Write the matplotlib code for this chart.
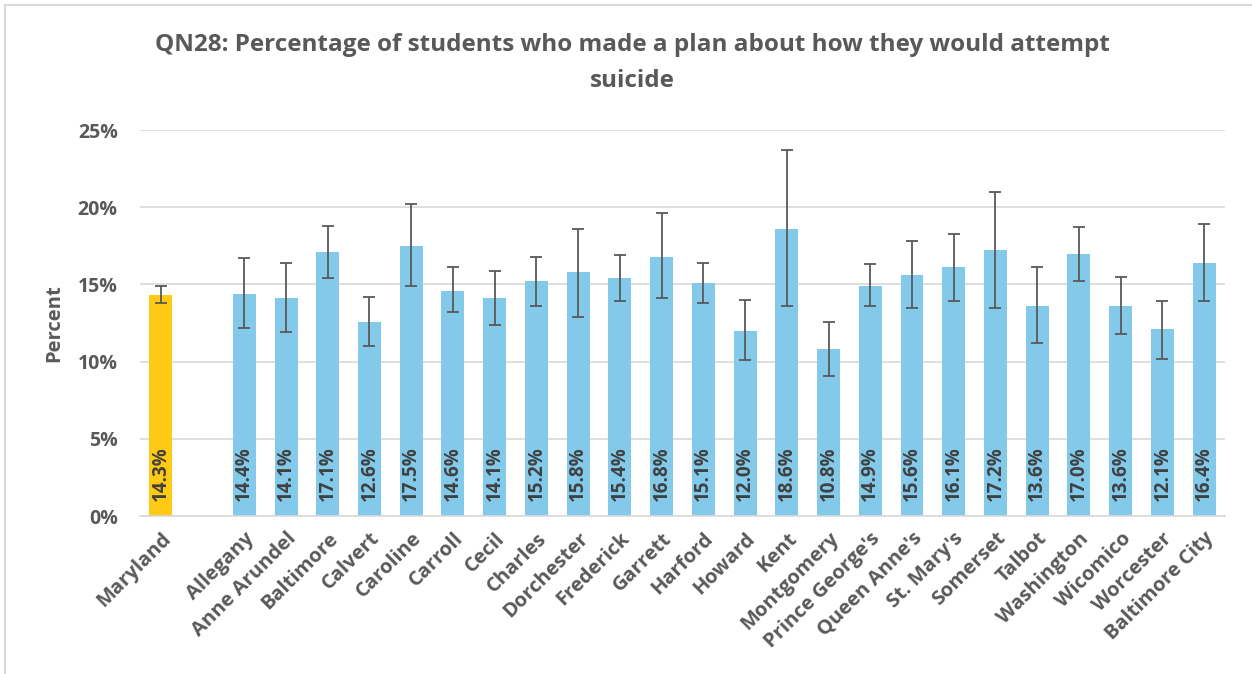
import matplotlib.pyplot as plt
import numpy as np
from matplotlib.patches import Rectangle

plt.rcParams['font.family'] = ['Open Sans', 'DejaVu Sans']

categories = ["Maryland", "", "Allegany", "Anne Arundel", "Baltimore", "Calvert",
              "Caroline", "Carroll", "Cecil", "Charles", "Dorchester", "Frederick",
              "Garrett", "Harford", "Howard", "Kent", "Montgomery", "Prince George's",
              "Queen Anne's", "St. Mary's", "Somerset", "Talbot", "Washington",
              "Wicomico", "Worcester", "Baltimore City"]
values = [14.3, np.nan, 14.4, 14.1, 17.1, 12.6, 17.5, 14.6, 14.1, 15.2, 15.8, 15.4,
          16.8, 15.1, 12.0, 18.6, 10.8, 14.9, 15.6, 16.1, 17.2, 13.6, 17.0,
          13.6, 12.1, 16.4]
ci_low = [13.8, np.nan, 12.2, 11.9, 15.4, 11.0, 14.9, 13.2, 12.4, 13.6, 12.9, 13.9,
          14.1, 13.8, 10.1, 13.6, 9.1, 13.6, 13.5, 13.9, 13.5, 11.2, 15.2,
          11.8, 10.2, 13.9]
ci_high = [14.9, np.nan, 16.7, 16.4, 18.8, 14.2, 20.2, 16.1, 15.9, 16.8, 18.6, 16.9,
           19.6, 16.4, 14.0, 23.7, 12.6, 16.3, 17.8, 18.3, 21.0, 16.1, 18.7,
           15.5, 13.9, 18.9]

text_color = '#595959'
vals = np.array(values)
lo = np.array(ci_low)
hi = np.array(ci_high)
x = np.arange(len(categories))
colors = ['#FFCA14'] + ['#83C9EA'] * (len(categories) - 1)

fig = plt.figure(figsize=(12.52, 6.74), dpi=100)
ax = fig.add_axes([0.1118, 0.2344, 0.8666, 0.5726])

mask = ~np.isnan(vals)
ax.bar(x[mask], vals[mask], width=0.55, color=[c for c, m in zip(colors, mask) if m],
       zorder=2)
ax.errorbar(x[mask], vals[mask], yerr=[vals[mask] - lo[mask], hi[mask] - vals[mask]],
            fmt='none', ecolor=text_color, elinewidth=1.3, capsize=4, capthick=1.3,
            zorder=3)

for xi, v in zip(x[mask], vals[mask]):
    ax.text(xi, 1.0, f"{v:.1f}%", rotation=90, ha='center', va='bottom',
            fontsize=13.5, fontweight='bold', color='#404040', zorder=4)

ax.set_xlim(-0.5, len(categories) - 0.5)
ax.set_ylim(0, 25)
ax.set_yticks([0, 5, 10, 15, 20, 25])
ax.set_yticklabels([f"{t}%" for t in [0, 5, 10, 15, 20, 25]])
ax.set_xticks(x)
ax.set_xticklabels(categories, rotation=45, ha='right', rotation_mode='anchor')
ax.tick_params(axis='both', length=0, labelcolor=text_color)
ax.tick_params(axis='x', pad=9, labelsize=14.5)
ax.tick_params(axis='y', pad=16, labelsize=14)
for lab in ax.get_xticklabels() + ax.get_yticklabels():
    lab.set_fontweight('bold')

ax.yaxis.grid(True, color='#D9D9D9', linewidth=1.2, zorder=0)
ax.set_axisbelow(True)
for s in ['top', 'right', 'left']:
    ax.spines[s].set_visible(False)
ax.spines['bottom'].set_color('#D9D9D9')
ax.spines['bottom'].set_linewidth(1.2)

ax.set_ylabel('Percent', fontsize=14.5, fontweight='bold', color=text_color, labelpad=10)

fig.text(0.505, 0.933, "QN28: Percentage of students who made a plan about how they would attempt",
         ha='center', va='center', fontsize=17.5, fontweight='bold', color=text_color)
fig.text(0.505, 0.88, "suicide", ha='center', va='center', fontsize=17.5,
         fontweight='bold', color=text_color)

fig.patches.append(Rectangle((0.004, -0.01), 1.0, 1.002, transform=fig.transFigure,
                             fill=False, edgecolor='#D9D9D9', linewidth=1.5))

fig.savefig('out.png', dpi=100)
